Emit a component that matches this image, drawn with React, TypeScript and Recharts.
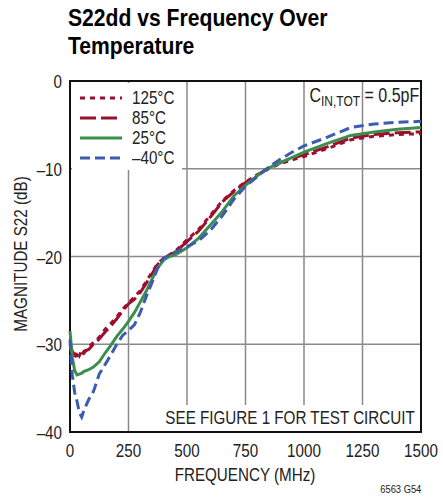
import { LineChart, Line, XAxis, YAxis, CartesianGrid, ReferenceArea } from "recharts"

const freq = [0, 10, 20, 30, 40, 50, 60, 80, 100, 125, 150, 175, 200, 225, 250, 275, 300, 325, 350, 375, 400, 425, 450, 500, 550, 600, 650, 700, 750, 800, 850, 900, 950, 1000, 1100, 1200, 1300, 1400, 1500]

const t125 = [-30.5, -31.0, -31.5, -30.8, -31.3, -30.7, -31.0, -30.3, -29.8, -29.2, -28.3, -27.6, -26.9, -26.0, -25.3, -24.6, -23.9, -22.9, -21.8, -20.8, -20.2, -19.8, -19.4, -18.1, -16.9, -15.3, -13.7, -12.5, -11.5, -10.7, -10.0, -9.4, -9.0, -8.6, -7.7, -6.7, -6.3, -6.1, -6.0]
const t85 = [-30.0, -30.8, -31.2, -31.3, -31.0, -31.2, -30.8, -30.6, -30.0, -29.4, -28.6, -27.9, -27.1, -26.2, -25.4, -24.9, -24.1, -23.1, -22.0, -20.9, -20.2, -19.9, -19.5, -18.3, -17.1, -15.5, -13.8, -12.6, -11.6, -10.7, -9.9, -9.3, -8.8, -8.4, -7.5, -6.5, -6.1, -5.9, -5.8]
const t25 = [-28.5, -31.5, -33.0, -33.5, -33.4, -33.3, -33.1, -32.9, -32.6, -32.0, -31.0, -30.1, -29.1, -28.3, -27.4, -26.4, -25.2, -24.0, -22.6, -21.3, -20.4, -20.0, -19.8, -19.0, -17.9, -16.4, -14.9, -13.1, -11.9, -10.8, -9.9, -9.3, -8.7, -8.1, -7.1, -6.2, -5.8, -5.5, -5.3]
const tm40 = [-29.5, -33.5, -35.5, -36.5, -37.8, -38.3, -37.5, -36.3, -35.4, -33.4, -32.3, -31.2, -30.0, -29.0, -28.4, -27.8, -26.4, -24.6, -23.0, -21.3, -20.2, -19.8, -19.5, -18.9, -18.2, -17.0, -15.4, -13.5, -12.0, -10.9, -9.8, -8.9, -8.1, -7.4, -6.4, -5.3, -4.9, -4.7, -4.6]

const xTicks = [0, 250, 500, 750, 1000, 1250, 1500]
const yTicks = [0, -10, -20, -30, -40]

const series = [
  { key: "t125", name: "125°C", color: "#9c0f2e", dash: "5 5" },
  { key: "t85", name: "85°C", color: "#9c0f2e", dash: "16 5" },
  { key: "t25", name: "25°C", color: "#3a8f4c", dash: undefined },
  { key: "tm40", name: "\u201340°C", color: "#3d5bb0", dash: "10 5" },
]

const rows = freq.map((f, i) => ({ f, t125: t125[i], t85: t85[i], t25: t25[i], tm40: tm40[i] }))

// no condensed face installed, so squeeze Liberation Sans horizontally
const font = "'Liberation Sans', Arial, sans-serif"
const SQ = 0.8

const fmtY = (v: number) => (v === 0 ? "0" : "\u2013" + Math.abs(v))

const XTick = ({ x, y, payload }: any) => (
  <g transform={`translate(${x},${y})`}>
    <text transform={`scale(${SQ},1)`} textAnchor="middle" dy={14} fontSize={19} fill="#222" fontFamily={font}>
      {payload.value}
    </text>
  </g>
)

const YTick = ({ x, y, payload }: any) => (
  <g transform={`translate(${x},${y})`}>
    <text transform={`scale(${SQ},1)`} textAnchor="end" dy={7} fontSize={19} fill="#222" fontFamily={font}>
      {fmtY(payload.value)}
    </text>
  </g>
)

const sq = (origin: string) => ({ display: "inline-block", transform: `scaleX(${SQ})`, transformOrigin: origin, whiteSpace: "nowrap" as const })

export default function App() {
  return (
    <div style={{ position: "absolute", left: 0, top: 0, width: 443, height: 501, background: "#fff", fontFamily: font, color: "#222" }}>
      <LineChart width={443} height={501} data={rows} margin={{ top: 81, right: 22, bottom: 0, left: 0 }}>
        <CartesianGrid stroke="#8a8a8a" strokeWidth={1.5} />
        <XAxis
          dataKey="f"
          type="number"
          domain={[0, 1500]}
          ticks={xTicks}
          interval={0}
          height={69}
          tickSize={0}
          tickMargin={11}
          axisLine={false}
          tick={<XTick />}
        />
        <YAxis
          type="number"
          domain={[-40, 0]}
          ticks={yTicks}
          interval={0}
          width={70}
          tickSize={0}
          tickMargin={8}
          axisLine={false}
          tick={<YTick />}
        />
        <ReferenceArea x1={0} x2={1500} y1={-40} y2={0} fill="none" stroke="#111" strokeWidth={2} />
        {series.map(s => (
          <Line
            key={s.key}
            type="linear"
            dataKey={s.key}
            stroke={s.color}
            strokeWidth={3}
            strokeDasharray={s.dash}
            dot={false}
            isAnimationActive={false}
          />
        ))}
      </LineChart>

      <div style={{ position: "absolute", left: 68, top: 4, fontSize: 24, fontWeight: "bold", lineHeight: "28px", color: "#000", transform: "scaleX(0.88)", transformOrigin: "left", whiteSpace: "nowrap" }}>
        S22dd vs Frequency Over<br />Temperature
      </div>

      <div style={{ position: "absolute", left: 72, top: 83, width: 110, height: 87, background: "#fff" }}>
        {series.map((s, i) => (
          <div key={s.key} style={{ position: "absolute", left: 0, top: 5 + i * 20, height: 20, display: "flex", alignItems: "center", whiteSpace: "nowrap" }}>
            <svg width={50} height={6} style={{ marginLeft: 8 }}>
              <line x1={0} y1={3} x2={42} y2={3} stroke={s.color} strokeWidth={3} strokeDasharray={s.dash} />
            </svg>
            <span style={{ ...sq("left"), fontSize: 19, lineHeight: "20px", marginLeft: 2 }}>{s.name}</span>
          </div>
        ))}
      </div>

      <div style={{ position: "absolute", right: 24, top: 84, fontSize: 20, lineHeight: "22px" }}>
        <span style={sq("right")}>
          C<sub style={{ fontSize: 15, verticalAlign: "-4px" }}>IN,TOT</sub> = 0.5pF
        </span>
      </div>

      <div style={{ position: "absolute", left: 160, top: 405, width: 260, height: 26, background: "#fff" }} />
      <div style={{ position: "absolute", right: 28, top: 405, fontSize: 19, lineHeight: "26px" }}>
        <span style={sq("right")}>SEE FIGURE 1 FOR TEST CIRCUIT</span>
      </div>

      <div style={{ position: "absolute", left: 245, top: 464, fontSize: 19, lineHeight: "22px", transform: `translateX(-50%) scaleX(${SQ})`, whiteSpace: "nowrap" }}>
        FREQUENCY (MHz)
      </div>

      <div style={{ position: "absolute", left: 21, top: 254, fontSize: 19, whiteSpace: "nowrap", transform: `translate(-50%, -50%) rotate(-90deg) scaleX(${SQ})` }}>
        MAGNITUDE S22 (dB)
      </div>

      <div style={{ position: "absolute", right: 22, top: 483, fontSize: 11 }}>
        <span style={{ ...sq("right"), transform: "scaleX(0.85)" }}>6563 G54</span>
      </div>
    </div>
  )
}
